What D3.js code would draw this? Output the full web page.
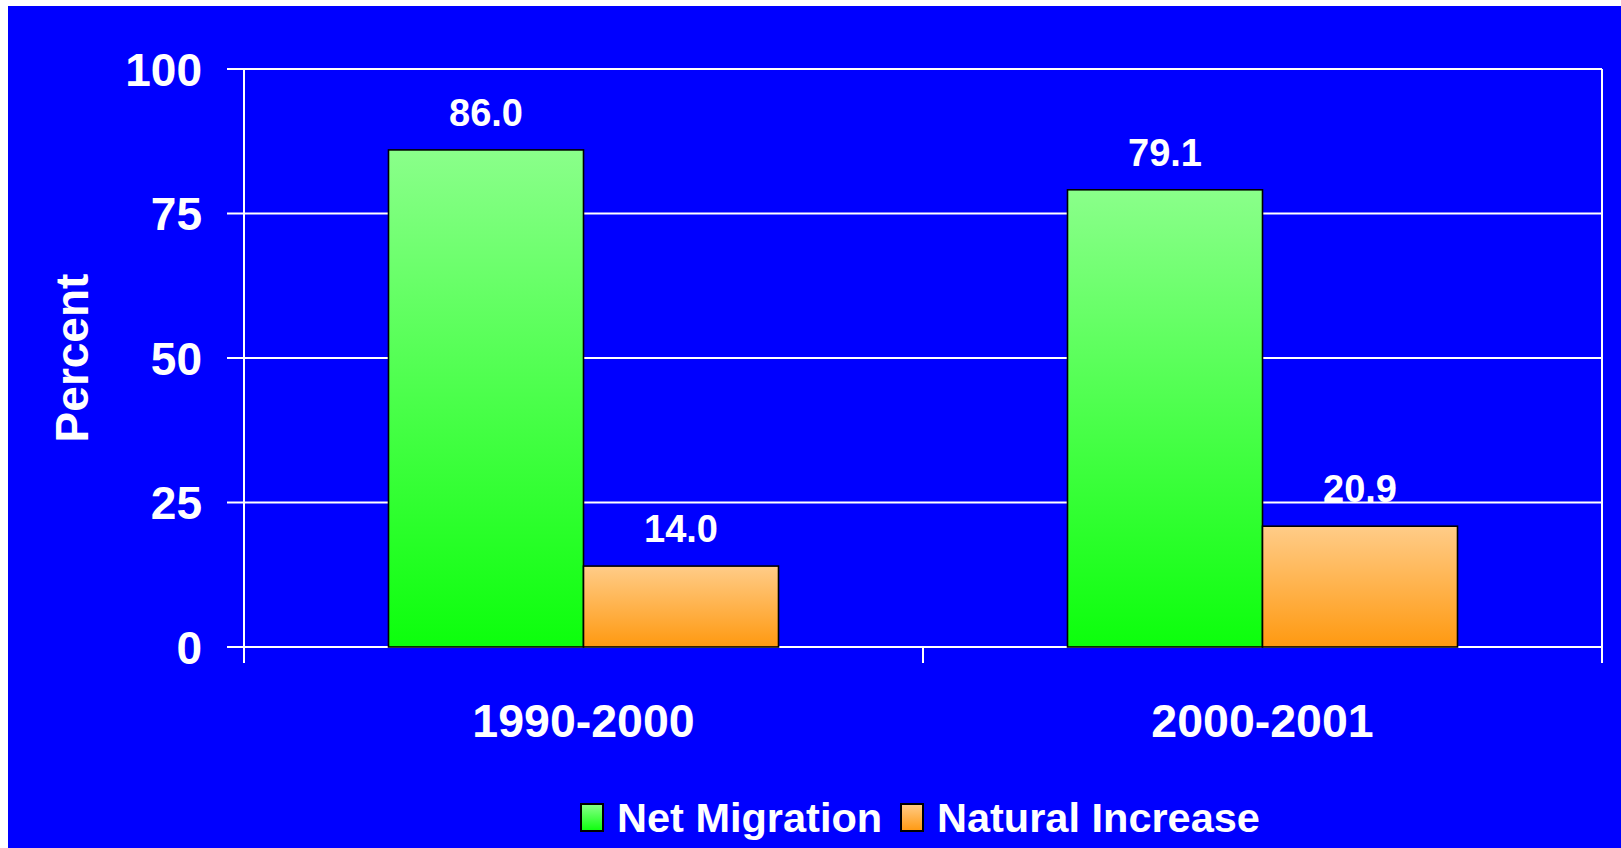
<!DOCTYPE html>
<html lang="en">
<head>
<meta charset="UTF-8">
<title>Net Migration vs Natural Increase</title>
<script src="https://d3js.org/d3.v7.min.js"></script>
<style>
  body { margin: 0; background: #ffffff; }
  svg text { font-family: "Liberation Sans", Arial, sans-serif; font-weight: bold; fill: #ffffff; }
</style>
</head>
<body>
<div id="chart"></div>
<script>
// Data
var periods = ["1990-2000", "2000-2001"];
var series = ["Net Migration", "Natural Increase"];
var netMigration = [86.0, 79.1];
var naturalIncrease = [14.0, 20.9];
var yTicks = [0, 25, 50, 75, 100];

var values = [netMigration, naturalIncrease];

// Canvas
var W = 1621, H = 848;
var plot = {left: 244, right: 1602, top: 69, bottom: 647};

var svg = d3.select("#chart").append("svg")
    .attr("width", W)
    .attr("height", H);

// blue panel
svg.append("rect")
    .attr("x", 8).attr("y", 6)
    .attr("width", W - 8).attr("height", H - 6)
    .attr("fill", "#0000ff");

// gradients
var defs = svg.append("defs");
var grads = [
    {id: "gGreen", top: "#8aff8a", bottom: "#0cff0c"},
    {id: "gOrange", top: "#ffcc88", bottom: "#ff9910"}
];
grads.forEach(function (g) {
    var lg = defs.append("linearGradient")
        .attr("id", g.id)
        .attr("x1", 0).attr("y1", 0).attr("x2", 0).attr("y2", 1);
    lg.append("stop").attr("offset", "0%").attr("stop-color", g.top);
    lg.append("stop").attr("offset", "100%").attr("stop-color", g.bottom);
});
var fill = d3.scaleOrdinal().domain(series).range(["url(#gGreen)", "url(#gOrange)"]);

// Scales
var x = d3.scaleBand()
    .domain(periods)
    .range([plot.left, plot.right])
    .padding(0);

var x1 = d3.scaleBand()
    .domain(series)
    .range([0, x.bandwidth()])
    .paddingInner(0)
    .paddingOuter(0.741);

var y = d3.scaleLinear()
    .domain([0, 100])
    .range([plot.bottom, plot.top]);

// gridlines
svg.append("g")
    .selectAll("line")
    .data(yTicks)
    .enter()
    .append("line")
        .attr("x1", plot.left - 17)
        .attr("x2", plot.right)
        .attr("y1", function (d) { return y(d); })
        .attr("y2", function (d) { return y(d); })
        .attr("stroke", "#ffffff")
        .attr("stroke-width", 2);

// y tick labels
svg.append("g")
    .selectAll("text")
    .data(yTicks)
    .enter()
    .append("text")
        .attr("x", 202)
        .attr("y", function (d) { return y(d); })
        .attr("dy", "0.36em")
        .attr("text-anchor", "end")
        .style("font-size", "46px")
        .text(function (d) { return d; });

// vertical axis lines (left + right frame) and category ticks
var xEdges = [plot.left].concat(periods.map(function (p) { return x(p) + x.bandwidth(); }));
svg.append("g")
    .selectAll("line")
    .data(xEdges)
    .enter()
    .append("line")
        .attr("x1", function (d) { return d; })
        .attr("x2", function (d) { return d; })
        .attr("y1", function (d, i) { return (i === 0 || i === xEdges.length - 1) ? plot.top : plot.bottom; })
        .attr("y2", plot.bottom + 16)
        .attr("stroke", "#ffffff")
        .attr("stroke-width", 2);

// Bars
var groups = svg.append("g")
    .selectAll("g")
    .data(periods)
    .enter()
    .append("g")
        .attr("transform", function (d) { return "translate(" + x(d) + ",0)"; });

groups.selectAll("rect")
    .data(function (d, i) { return series.map(function (s, j) { return {key: s, value: values[j][i]}; }); })
    .enter()
    .append("rect")
        .attr("x", function (d) { return x1(d.key); })
        .attr("y", function (d) { return y(d.value); })
        .attr("width", x1.bandwidth())
        .attr("height", function (d) { return y(0) - y(d.value); })
        .attr("fill", function (d) { return fill(d.key); })
        .attr("stroke", "#000000")
        .attr("stroke-width", 1.6);

// value labels
groups.selectAll("text")
    .data(function (d, i) { return series.map(function (s, j) { return {key: s, value: values[j][i]}; }); })
    .enter()
    .append("text")
        .attr("x", function (d) { return x1(d.key) + x1.bandwidth() / 2; })
        .attr("y", function (d) { return y(d.value) - 24; })
        .attr("text-anchor", "middle")
        .style("font-size", "38px")
        .text(function (d) { return d.value.toFixed(1); });

// category labels
svg.append("g")
    .selectAll("text")
    .data(periods)
    .enter()
    .append("text")
        .attr("x", function (d) { return x(d) + x.bandwidth() / 2; })
        .attr("y", 737)
        .attr("text-anchor", "middle")
        .style("font-size", "46.5px")
        .text(function (d) { return d; });

// y axis title
svg.append("text")
    .attr("transform", "translate(88," + ((plot.top + plot.bottom) / 2) + ") rotate(-90)")
    .attr("text-anchor", "middle")
    .style("font-size", "46px")
    .text("Percent");

// Legend
var legend = svg.append("g").attr("transform", "translate(581,0)");
var legendItems = [
    {key: series[0], x: 0},
    {key: series[1], x: 320}
];
legendItems.forEach(function (it) {
    legend.append("rect")
        .attr("x", it.x)
        .attr("y", 804)
        .attr("width", 22)
        .attr("height", 27)
        .attr("fill", fill(it.key))
        .attr("stroke", "#000000")
        .attr("stroke-width", 2);
    legend.append("text")
        .attr("x", it.x + 36)
        .attr("y", 832)
        .style("font-size", "41.5px")
        .text(it.key);
});
</script>
</body>
</html>
